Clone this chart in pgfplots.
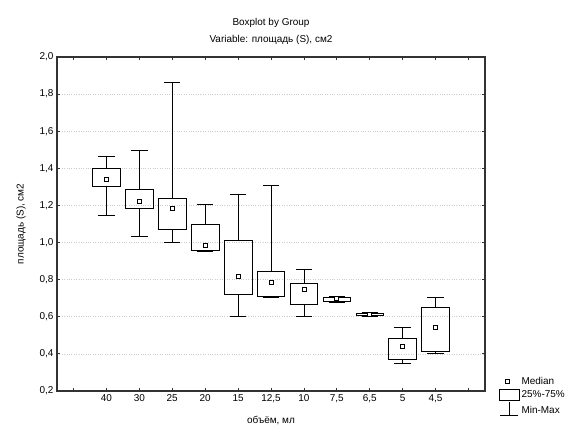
\documentclass[border=0pt]{standalone}
\usepackage{fontspec}
\setmainfont{Liberation Sans}
\usepackage{pgfplots}
\pgfplotsset{compat=1.18}
\usepgfplotslibrary{statistics}

\begin{document}
\begin{tikzpicture}
\begin{axis}[
  scale only axis, width=428bp, height=334bp,
  xmin=-0.5, xmax=12.5, ymin=0.2, ymax=2.0,
  xtick={0,1,2,3,4,5,6,7,8,9,10,11,12},
  xticklabels={,40,30,25,20,15,{12,5},10,{7,5},{6,5},5,{4,5},},
  ytick={0.2,0.4,0.6,0.8,1.0,1.2,1.4,1.6,1.8,2.0},
  yticklabel style={/pgf/number format/.cd, fixed, fixed zerofill, precision=1, use comma, assume math mode=true},
  ymajorgrids, grid style={dotted, draw=gray!40, line width=0.7pt},
  tick align=inside, major tick length=3bp, tick style={black!80, line width=0.8pt},
  axis line style={line width=1.2pt, draw=black!80},
  font=\fontsize{10}{12}\selectfont,
  title={Boxplot by Group\\[5pt]Variable: площадь (S), см2},
  title style={align=center, yshift=3bp},
  xlabel={объём, мл}, ylabel={площадь (S), см2},
  xlabel style={yshift=-7bp}, ylabel style={yshift=7bp},
  clip=false,
  boxplot/draw direction=y,
  boxplot/box extend=0.84, boxplot/whisker extend=0.5,
  boxplot/every median/.style={draw=none},
  legend style={at={(rel axis cs:1.025,0.055)}, anchor=north west, draw=none, fill=none,
    font=\fontsize{10}{12}\selectfont, row sep=1pt, legend cell align=left},
]
\addlegendimage{only marks, mark=square*, mark size=2bp, mark options={fill=white, draw=black, line width=0.7pt}}
\addlegendentry{Median}
\addlegendimage{legend image code/.code={\draw[black, line width=0.7pt] (0bp,-6bp) rectangle (20bp,5bp);}}
\addlegendentry{25\%-75\%}
\addlegendimage{legend image code/.code={\draw[black, line width=0.7pt] (10bp,8bp) -- (10bp,-5bp) (1bp,-5bp) -- (19bp,-5bp);}}
\addlegendentry{Min-Max}

\pgfplotsset{every axis plot/.append style={forget plot}}
\addplot[black, line width=0.8pt, boxplot prepared={draw position=1, lower whisker=1.149, lower quartile=1.301, median=1.341, upper quartile=1.398, upper whisker=1.467}] coordinates {};
\addplot[black, line width=0.8pt, boxplot prepared={draw position=2, lower whisker=1.032, lower quartile=1.183, median=1.220, upper quartile=1.287, upper whisker=1.499}] coordinates {};
\addplot[black, line width=0.8pt, boxplot prepared={draw position=3, lower whisker=1.000, lower quartile=1.071, median=1.183, upper quartile=1.240, upper whisker=1.862}] coordinates {};
\addplot[black, line width=0.8pt, boxplot prepared={draw position=4, lower whisker=0.955, lower quartile=0.960, median=0.983, upper quartile=1.100, upper whisker=1.204}] coordinates {};
\addplot[black, line width=0.8pt, boxplot prepared={draw position=5, lower whisker=0.601, lower quartile=0.719, median=0.816, upper quartile=1.014, upper whisker=1.262}] coordinates {};
\addplot[black, line width=0.8pt, boxplot prepared={draw position=6, lower whisker=0.705, lower quartile=0.709, median=0.786, upper quartile=0.845, upper whisker=1.309}] coordinates {};
\addplot[black, line width=0.8pt, boxplot prepared={draw position=7, lower whisker=0.601, lower quartile=0.669, median=0.748, upper quartile=0.782, upper whisker=0.858}] coordinates {};
\addplot[black, line width=0.8pt, boxplot prepared={draw position=8, lower whisker=0.676, lower quartile=0.685, median=0.698, upper quartile=0.706, upper whisker=0.712}] coordinates {};
\addplot[black, line width=0.8pt, boxplot prepared={draw position=9, lower whisker=0.604, lower quartile=0.606, median=0.612, upper quartile=0.618, upper whisker=0.621}] coordinates {};
\addplot[black, line width=0.8pt, boxplot prepared={draw position=10, lower whisker=0.350, lower quartile=0.371, median=0.443, upper quartile=0.486, upper whisker=0.542}] coordinates {};
\addplot[black, line width=0.8pt, boxplot prepared={draw position=11, lower whisker=0.405, lower quartile=0.411, median=0.542, upper quartile=0.651, upper whisker=0.705}] coordinates {};

\addplot[only marks, mark=square*, mark size=2bp, mark options={fill=white, draw=black, line width=0.7pt}] coordinates {
  (1,1.341) (2,1.220) (3,1.183) (4,0.983) (5,0.816) (6,0.786)
  (7,0.748) (8,0.698) (9,0.612) (10,0.443) (11,0.542)
};

\path (rel axis cs:-0.1332,-0.1347) rectangle (rel axis cs:1.215,1.1707);
\end{axis}
\end{tikzpicture}
\end{document}
